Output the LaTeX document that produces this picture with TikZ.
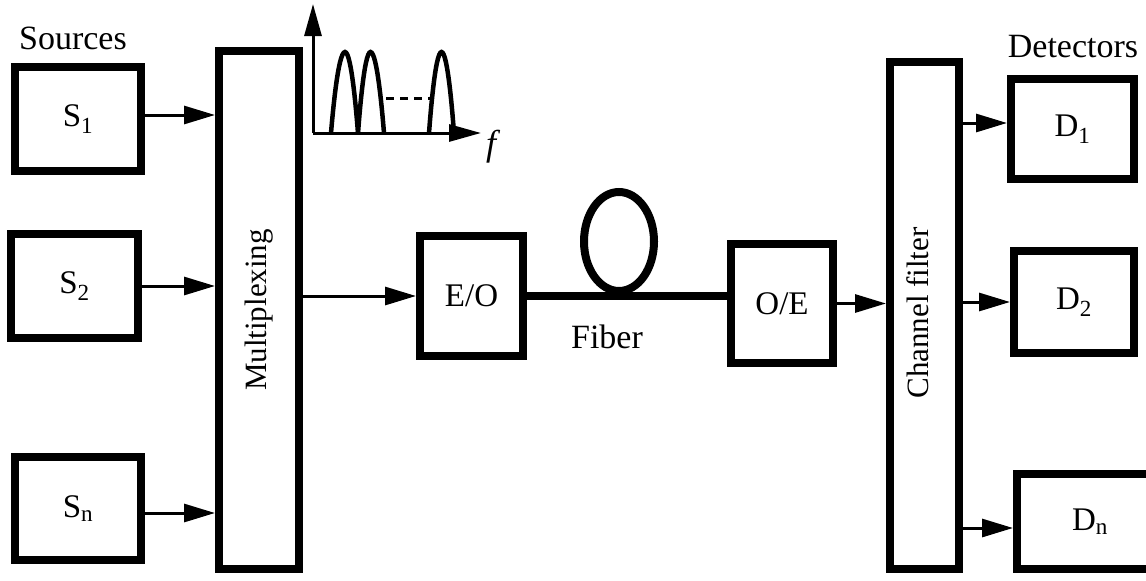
\documentclass[tikz,border=0pt]{standalone}
\usepackage{fontspec}
\setmainfont{Liberation Serif}
\usepackage{graphicx}
\usetikzlibrary{arrows.meta,shapes.geometric,calc}
\tikzset{
  txt/.style={font=\fontsize{34}{38}\selectfont, inner sep=0pt},
  box/.style={draw, line width=8pt, rectangle, inner sep=0pt, font=\fontsize{33}{38}\selectfont},
  arr/.style={line width=3pt, -{Triangle[length=31pt,width=18pt]}},
  fiberline/.style={line width=8pt},
  axis/.style={line width=3pt, -{Triangle[length=32pt,width=17pt]}},
  peak/.style={line width=4.5pt},
}
\begin{document}
\begin{tikzpicture}[x=1pt,y=-1pt]
\useasboundingbox (0,0) rectangle (1146,581);
\fill[white] (0,0) rectangle (1146,581);
\clip (0,0) rectangle (1146,581);

% labels
\node[txt] (sources) at (73,38) {Sources};
\node[txt] (detectors) at (1073,47) {Detectors};

% source boxes
\node[box, minimum width=126pt, minimum height=104pt] (s1) at (78,119) {S\textsubscript{1}};
\node[box, minimum width=127pt, minimum height=104pt] (s2) at (74.5,286) {S\textsubscript{2}};
\node[box, minimum width=126pt, minimum height=103pt] (sn) at (78,508.5) {S\textsubscript{n}};

% multiplexing
\node[box, font=\fontsize{31}{36}\selectfont, minimum width=80pt, minimum height=518pt] (mux) at (259,310) {\rotatebox{90}{Multiplexing}};

% E/O, O/E
\node[box, minimum width=103pt, minimum height=120pt] (eo) at (471.5,296) {E/O};
\node[box, minimum width=102pt, minimum height=119pt] (oe) at (782,303.5) {O/E};

% fiber loop
\node[draw, ellipse, line width=8pt, minimum width=70pt, minimum height=99pt, inner sep=0pt] (loop) at (619,241.5) {};
\node[txt] (fiber) at (607,337) {Fiber};

% channel filter
\node[box, font=\fontsize{31}{36}\selectfont, minimum width=69pt, minimum height=507pt] (cf) at (924.5,315.5) {\hspace{-14pt}\raisebox{5pt}{\rotatebox{90}{Channel filter}}};

% detectors
\node[box, minimum width=123pt, minimum height=100pt] (d1) at (1072.5,129) {D\textsubscript{1}};
\node[box, minimum width=120pt, minimum height=102pt] (d2) at (1074,302) {D\textsubscript{2}};
\node[box, minimum width=150pt, minimum height=95pt] (dn) at (1092,521.5) {\hspace{-4pt}D\textsubscript{n}};

% connectors
\draw[arr] ([yshift=4pt]s1.east) -- ([yshift=4pt]s1.east -| mux.west);
\draw[arr] (s2.east) -- (s2.east -| mux.west);
\draw[arr] ([yshift=-4.5pt]sn.east) -- ([yshift=-4.5pt]sn.east -| mux.west);
\draw[arr] (eo.west -| mux.east) -- (eo.west);
\draw[fiberline] (eo.east) -- (eo.east -| oe.west);
\draw[arr] (oe.east) -- (oe.east -| cf.west);
\draw[arr] ([yshift=6pt]d1.west -| cf.east) -- ([yshift=6pt]d1.west);
\draw[arr] (d2.west -| cf.east) -- (d2.west);
\draw[arr] ([yshift=-6.5pt]dn.west -| cf.east) -- ([yshift=-6.5pt]dn.west);

% spectrum
\coordinate (org) at (313,133);
\coordinate (ytip) at (313,4);
\coordinate (xtip) at (481,133);
\draw[axis] (org) -- (ytip);
\draw[axis] (org) -- (xtip);
\draw[peak] (331,133) parabola bend (345,52) (358,133);
\draw[peak] (358,133) parabola bend (370.5,52) (384,133);
\draw[peak] (429,133) parabola bend (441.5,52) (454,133);
\draw[line width=3pt, dash pattern=on 8pt off 6pt] (386,98) -- (430,98);
\node[txt, font=\fontsize{36}{40}\selectfont\itshape] (f) at (491,147) {f};
\end{tikzpicture}
\end{document}
